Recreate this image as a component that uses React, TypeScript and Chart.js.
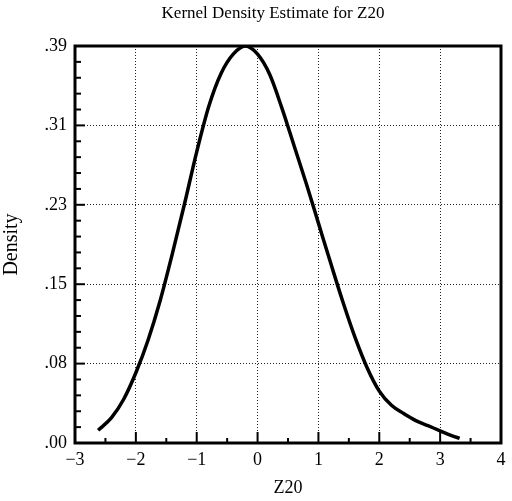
import React, { useEffect, useRef } from "react";
import { Chart, registerables } from "chart.js";

Chart.register(...registerables);

const chartTitle = "Kernel Density Estimate for Z20";
const xAxisTitle = "Z20";
const yAxisTitle = "Density";

const zValues = [-2.62, -2.4, -2.2, -2.0, -1.8, -1.6, -1.4, -1.2, -1.0, -0.8, -0.6, -0.4, -0.2, 0.0, 0.2, 0.4, 0.6, 0.8, 1.0, 1.2, 1.4, 1.6, 1.8, 2.0, 2.2, 2.4, 2.6, 2.8, 3.0, 3.2, 3.32];
const densityValues = [0.0125, 0.025, 0.043, 0.069, 0.101, 0.14, 0.186, 0.235, 0.286, 0.331, 0.363, 0.382, 0.39, 0.382, 0.362, 0.329, 0.292, 0.255, 0.216, 0.177, 0.139, 0.104, 0.074, 0.051, 0.037, 0.029, 0.022, 0.017, 0.012, 0.007, 0.0046];

const yTickValues = [0, 0.078, 0.156, 0.234, 0.312, 0.39];
const yTickLabels = [".00", ".08", ".15", ".23", ".31", ".39"];
const xTickValues = [-3, -2, -1, 0, 1, 2, 3, 4];

const SERIF = "'Liberation Serif', 'Times New Roman', serif";

const framePlugin = {
  id: "frameAndTicks",
  afterDraw(chart: any) {
    const { ctx, chartArea } = chart;
    const xs = chart.scales.x;
    const ys = chart.scales.y;
    ctx.save();
    ctx.strokeStyle = "#000";
    ctx.lineWidth = 2;
    for (let i = 0; i < yTickValues.length; i++) {
      const py = ys.getPixelForValue(yTickValues[i]);
      ctx.beginPath();
      ctx.moveTo(chartArea.left, py);
      ctx.lineTo(chartArea.left + 10, py);
      ctx.stroke();
      if (i < yTickValues.length - 1) {
        const step = (yTickValues[i + 1] - yTickValues[i]) / 5;
        for (let k = 1; k < 5; k++) {
          const my = ys.getPixelForValue(yTickValues[i] + step * k);
          ctx.beginPath();
          ctx.moveTo(chartArea.left, my);
          ctx.lineTo(chartArea.left + 6, my);
          ctx.stroke();
        }
      }
    }
    for (let i = 0; i < xTickValues.length; i++) {
      const px = xs.getPixelForValue(xTickValues[i]);
      ctx.beginPath();
      ctx.moveTo(px, chartArea.bottom);
      ctx.lineTo(px, chartArea.bottom - 11);
      ctx.stroke();
      if (i < xTickValues.length - 1) {
        const mx = xs.getPixelForValue((xTickValues[i] + xTickValues[i + 1]) / 2);
        ctx.beginPath();
        ctx.moveTo(mx, chartArea.bottom);
        ctx.lineTo(mx, chartArea.bottom - 5);
        ctx.stroke();
      }
    }
    ctx.lineWidth = 3;
    ctx.strokeRect(chartArea.left, chartArea.top, chartArea.right - chartArea.left, chartArea.bottom - chartArea.top);
    ctx.fillStyle = "#000";
    ctx.font = `17px ${SERIF}`;
    ctx.textAlign = "center";
    ctx.textBaseline = "middle";
    ctx.fillText(chartTitle, 273, 14);
    ctx.restore();
  },
};

export default function App() {
  const canvasRef = useRef<HTMLCanvasElement | null>(null);

  useEffect(() => {
    if (!canvasRef.current) return;
    const data = zValues.map((z, i) => ({ x: z, y: densityValues[i] }));
    const chart = new Chart(canvasRef.current, {
      type: "scatter",
      data: {
        datasets: [
          {
            data,
            showLine: true,
            borderColor: "#000",
            borderWidth: 3.5,
            pointRadius: 0,
            cubicInterpolationMode: "monotone",
            fill: false,
          } as any,
        ],
      },
      options: {
        animation: false,
        responsive: false,
        maintainAspectRatio: false,
        layout: { padding: { top: 46, right: 11, left: 0, bottom: 0 } },
        plugins: {
          legend: { display: false },
          tooltip: { enabled: false },
          title: { display: false },
        },
        scales: {
          x: {
            type: "linear",
            min: -3,
            max: 4,
            afterBuildTicks: (scale: any) => {
              scale.ticks = xTickValues.map((v) => ({ value: v }));
            },
            afterFit: (scale: any) => {
              scale.height = 58;
            },
            ticks: {
              color: "#000",
              font: { family: SERIF, size: 18 },
              padding: 6,
              maxRotation: 0,
              callback: (v: any) => (Number(v) < 0 ? "\u2212" + Math.abs(Number(v)) : String(v)),
            },
            grid: { color: "#222", lineWidth: 1, drawTicks: false },
            border: { display: false, dash: [1, 2] },
            title: {
              display: true,
              text: xAxisTitle,
              color: "#000",
              font: { family: SERIF, size: 18 },
              padding: { top: 0, bottom: 2 },
            },
          },
          y: {
            type: "linear",
            min: 0,
            max: 0.39,
            afterBuildTicks: (scale: any) => {
              scale.ticks = yTickValues.map((v) => ({ value: v }));
            },
            afterFit: (scale: any) => {
              scale.width = 75;
            },
            ticks: {
              color: "#000",
              font: { family: SERIF, size: 18 },
              padding: 8,
              callback: (_v: any, idx: number) => yTickLabels[idx],
            },
            grid: { color: "#222", lineWidth: 1, drawTicks: false },
            border: { display: false, dash: [1, 2] },
            title: {
              display: true,
              text: yAxisTitle,
              color: "#000",
              font: { family: SERIF, size: 20 },
              padding: { top: 0, bottom: 0 },
            },
          },
        },
      },
      plugins: [framePlugin],
    });
    return () => chart.destroy();
  }, []);

  return (
    <div style={{ position: "absolute", left: 0, top: 0, width: 512, height: 501, background: "#fff" }}>
      <canvas ref={canvasRef} width={512} height={501} style={{ width: 512, height: 501 }} />
    </div>
  );
}
